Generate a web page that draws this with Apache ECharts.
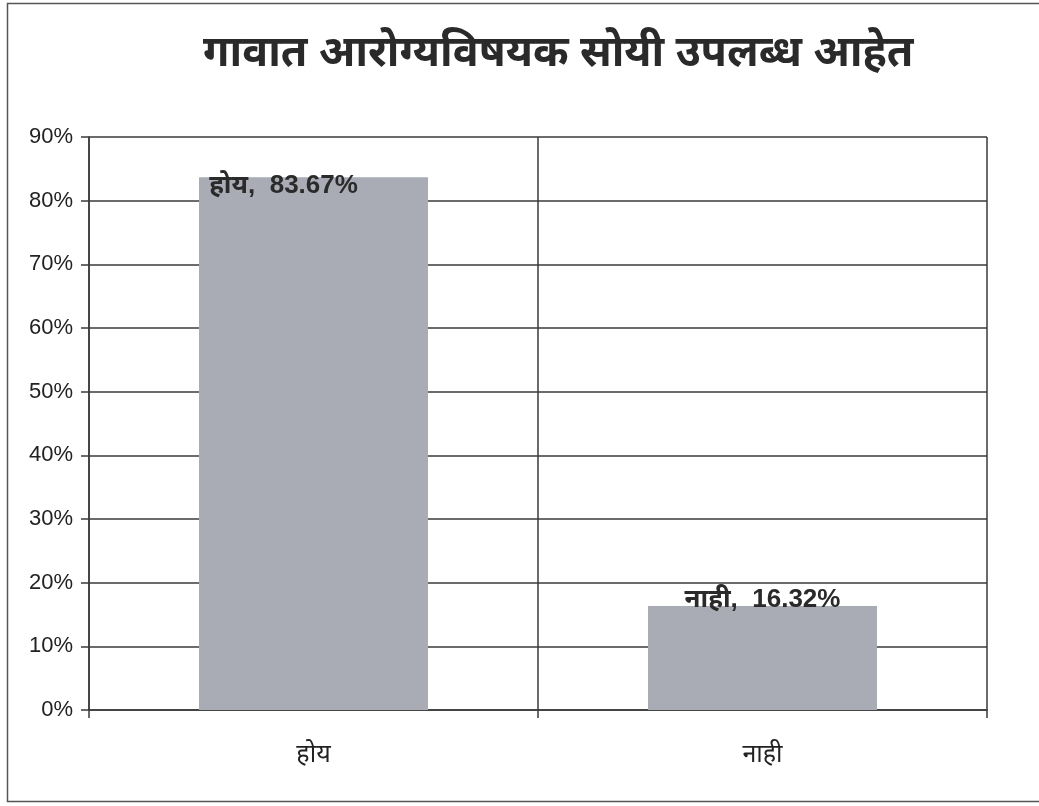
<!DOCTYPE html>
<html>
<head>
<meta charset="utf-8">
<script src="https://cdn.jsdelivr.net/npm/echarts@6/dist/echarts.min.js"></script>
<style>
  html, body { margin: 0; padding: 0; background: #fff; }
  #chart { width: 1039px; height: 806px; }
</style>
</head>
<body>
<div id="chart"></div>
<script>
// गावात आरोग्यविषयक सोयी उपलब्ध आहेत – उत्तरांचे प्रमाण (%)
const titleText = 'गावात आरोग्यविषयक सोयी उपलब्ध आहेत';
const categories = ['होय', 'नाही'];
const shares = [83.67, 16.32];
const yTicks = { min: 0, max: 90, interval: 10 };

const devaFont = '"Noto Sans Devanagari", "Lohit Devanagari", "Noto Sans", "Liberation Sans", sans-serif';
const latinFont = '"Liberation Sans", Arial, "Noto Sans Devanagari", sans-serif';
const lineColor = '#3a3a3a';

const labelOffsets = [[-30, -4], [0, -19]];

const chart = echarts.init(document.getElementById('chart'), null, { renderer: 'canvas' });
chart.setOption({
  backgroundColor: '#ffffff',
  animation: false,
  title: {
    text: titleText,
    left: 198,
    top: 31,
    textStyle: { fontFamily: devaFont, fontSize: 43, fontWeight: 'bold', color: '#2a2a2a' }
  },
  graphic: [{
    type: 'rect',
    shape: { x: 7.5, y: 3.5, width: 1050, height: 798 },
    style: { fill: 'none', stroke: '#555', lineWidth: 1.5 },
    silent: true
  }],
  grid: { left: 89, right: 52, top: 137, bottom: 96 },
  xAxis: {
    type: 'category',
    data: categories,
    axisLine: { show: true, lineStyle: { color: lineColor, width: 1.5 } },
    axisTick: { show: true, length: 8, lineStyle: { color: lineColor, width: 1.5 } },
    splitLine: { show: true, lineStyle: { color: lineColor, width: 1.5 } },
    axisLabel: { margin: 35, fontFamily: devaFont, fontSize: 25, color: '#222' }
  },
  yAxis: {
    type: 'value',
    min: yTicks.min,
    max: yTicks.max,
    interval: yTicks.interval,
    axisLine: { show: true, lineStyle: { color: lineColor, width: 1.5 } },
    axisTick: { show: true, length: 8, lineStyle: { color: lineColor, width: 1.5 } },
    splitLine: { show: true, lineStyle: { color: lineColor, width: 1.5 } },
    axisLabel: {
      formatter: '{value}%', margin: 16,
      fontFamily: latinFont, fontSize: 22, color: '#222'
    }
  },
  series: [{
    type: 'bar',
    barWidth: '51%',
    itemStyle: { color: '#a9abb5' },
    data: shares.map((v, i) => ({
      value: v,
      label: { offset: labelOffsets[i] }
    })),
    label: {
      show: true,
      position: 'insideTop',
      distance: 0,
      formatter: p => p.name + ',  ' + p.value.toFixed(2) + '%',
      fontFamily: latinFont,
      fontSize: 26,
      fontWeight: 'bold',
      color: '#2a2a2a'
    }
  }]
});
</script>
</body>
</html>
